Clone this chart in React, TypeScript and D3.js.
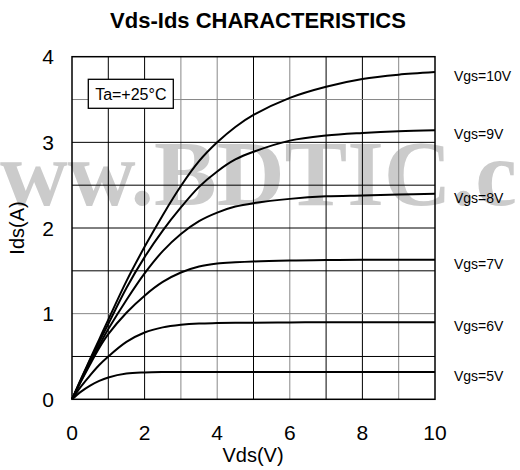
import React from 'react';
import * as d3 from 'd3';

const VDS = [0, 0.25, 0.5, 0.75, 1, 1.5, 2, 2.5, 3, 3.5, 4, 4.5, 5, 6, 7, 8, 9, 10];
const IDS_10V = [0, 0.24, 0.47, 0.70, 0.93, 1.38, 1.78, 2.15, 2.49, 2.78, 3.0, 3.18, 3.32, 3.52, 3.65, 3.74, 3.79, 3.82];
const IDS_9V = [0, 0.23, 0.46, 0.67, 0.88, 1.3, 1.66, 1.97, 2.24, 2.48, 2.66, 2.8, 2.89, 3.02, 3.08, 3.11, 3.13, 3.14];
const IDS_8V = [0, 0.22, 0.43, 0.63, 0.82, 1.16, 1.47, 1.73, 1.93, 2.08, 2.18, 2.25, 2.29, 2.34, 2.37, 2.38, 2.39, 2.40];
const IDS_7V = [0, 0.21, 0.41, 0.6, 0.76, 1.01, 1.21, 1.37, 1.48, 1.55, 1.585, 1.6, 1.61, 1.62, 1.625, 1.63, 1.63, 1.63];
const IDS_6V = [0, 0.15, 0.28, 0.4, 0.5, 0.67, 0.78, 0.84, 0.87, 0.885, 0.89, 0.893, 0.895, 0.897, 0.9, 0.9, 0.9, 0.9];
const IDS_5V = [0, 0.09, 0.16, 0.215, 0.255, 0.3, 0.314, 0.319, 0.32, 0.32, 0.32, 0.32, 0.32, 0.32, 0.32, 0.32, 0.32, 0.32];

const SERIES_LABELS = ['Vgs=10V', 'Vgs=9V', 'Vgs=8V', 'Vgs=7V', 'Vgs=6V', 'Vgs=5V'];
const SERIES = [IDS_10V, IDS_9V, IDS_8V, IDS_7V, IDS_6V, IDS_5V];

const X_TICKS = [0, 2, 4, 6, 8, 10];
const Y_TICKS = [0, 1, 2, 3, 4];
const X_GRID = [1, 2, 3, 4, 5, 6, 7, 8, 9];
const X_GRID_GRAY = [3, 4, 6, 9];
const Y_GRID = [0.5, 1, 1.5, 2, 2.5, 3, 3.5];
const Y_GRID_GRAY = [1, 3.5];

const TITLE = 'Vds-Ids CHARACTERISTICS';
const X_TITLE = 'Vds(V)';
const Y_TITLE = 'Ids(A)';
const TEMP_NOTE = 'Ta=+25°C';
const WATERMARK = 'www.BDTIC.com';

const SANS = 'Liberation Sans, Arial, Helvetica, sans-serif';

export default function App() {
  const x = d3.scaleLinear().domain([0, 10]).range([72, 435]);
  const y = d3.scaleLinear().domain([0, 4]).range([399.3, 56.7]);
  const line = d3
    .line<number>()
    .x((_, i) => x(VDS[i]))
    .y((d) => y(d))
    .curve(d3.curveCatmullRom.alpha(0.5));

  return (
    <svg
      width={520}
      height={470}
      style={{ position: 'absolute', left: 0, top: 0, background: '#fff' }}
      fontFamily={SANS}
    >
      <rect x={0} y={0} width={520} height={470} fill="#fff" />
      <text
        x={-68}
        y={205}
        fontFamily="Liberation Serif, Times New Roman, serif"
        fontWeight="bold"
        fontSize={94}
        fill="#cbcbcb"
      >
        {WATERMARK}
      </text>
      <text x={258} y={28} textAnchor="middle" fontWeight="bold" fontSize={22} fill="#000">
        {TITLE}
      </text>

      {X_GRID.map((v) => (
        <line
          key={'xg' + v}
          x1={x(v)}
          x2={x(v)}
          y1={y(0)}
          y2={y(4)}
          stroke={X_GRID_GRAY.includes(v) ? '#888' : '#000'}
          strokeWidth={1}
        />
      ))}
      {Y_GRID.map((v) => (
        <line
          key={'yg' + v}
          x1={x(0)}
          x2={x(10)}
          y1={y(v)}
          y2={y(v)}
          stroke={Y_GRID_GRAY.includes(v) ? '#888' : '#000'}
          strokeWidth={1}
        />
      ))}
      <rect
        x={x(0)}
        y={y(4)}
        width={x(10) - x(0)}
        height={y(0) - y(4)}
        fill="none"
        stroke="#000"
        strokeWidth={1.5}
      />

      <rect x={88.3} y={79.3} width={85} height={29} fill="#fff" stroke="#000" strokeWidth={1.3} />
      <text x={130.8} y={99.5} textAnchor="middle" fontSize={16} fill="#000">
        {TEMP_NOTE}
      </text>

      {SERIES.map((s, i) => (
        <path key={'s' + i} d={line(s) || ''} fill="none" stroke="#000" strokeWidth={2} />
      ))}
      {SERIES.map((s, i) => (
        <text
          key={'l' + i}
          x={454}
          y={y(s[s.length - 1]) + 4}
          dominantBaseline="central"
          fontSize={14}
          fill="#000"
        >
          {SERIES_LABELS[i]}
        </text>
      ))}

      {X_TICKS.map((v) => (
        <text key={'xt' + v} x={x(v)} y={440} textAnchor="middle" fontSize={21} fill="#000">
          {v}
        </text>
      ))}
      {Y_TICKS.map((v) => (
        <text
          key={'yt' + v}
          x={54}
          y={y(v)}
          textAnchor="end"
          dominantBaseline="central"
          fontSize={21}
          fill="#000"
        >
          {v}
        </text>
      ))}
      <text x={253} y={462} textAnchor="middle" fontSize={20} fill="#000">
        {X_TITLE}
      </text>
      <text
        transform="translate(24,228) rotate(-90)"
        textAnchor="middle"
        fontSize={20}
        fill="#000"
      >
        {Y_TITLE}
      </text>
    </svg>
  );
}
